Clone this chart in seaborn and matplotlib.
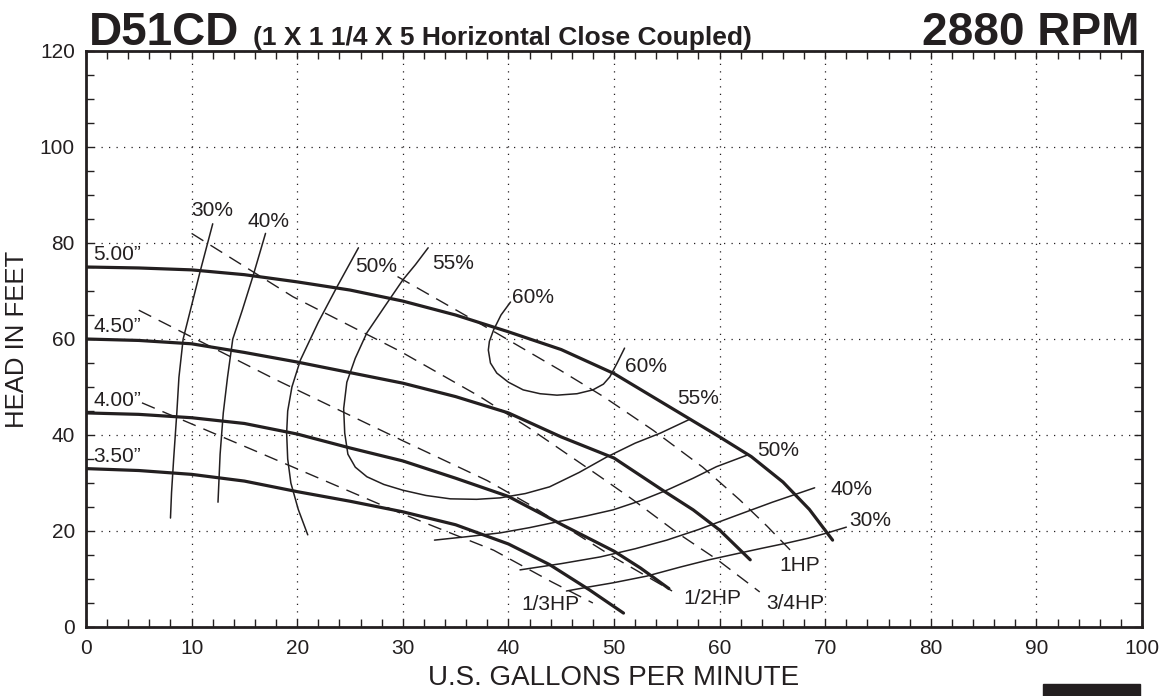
"""D51CD pump performance curve at 2880 RPM."""

import matplotlib.pyplot as plt
import seaborn as sns
from matplotlib.patches import Rectangle
from matplotlib.ticker import MultipleLocator

# impeller diameter curves (gpm, head ft)
gpm_500 = [0, 5, 10, 15, 20, 25, 30, 35, 40, 45, 50, 55, 60, 63, 66, 68.5, 70.7]
head_500 = [75, 74.8, 74.4, 73.4, 71.9, 70.2, 67.9, 65, 61.5, 57.8, 52.8,
            46.2, 39.6, 35.5, 30.2, 24.5, 18.1]
gpm_450 = [0, 5, 10, 15, 20, 25, 30, 35, 40, 45, 50, 54.6, 57.5, 60, 62.9]
head_450 = [60, 59.7, 59, 57.2, 55.2, 53, 50.8, 48, 44.6, 39.6, 35.2, 28.5,
            24.4, 20.2, 14]
gpm_400 = [0, 5, 10, 15, 20, 25, 30, 35, 40, 45, 50, 52.5, 55.2]
head_400 = [44.6, 44.3, 43.6, 42.4, 40.2, 37.3, 34.6, 31, 27.2, 21.4, 15.8,
            12.3, 8]
gpm_350 = [0, 5, 10, 15, 20, 25, 30, 35, 40, 43.9, 47.7, 50.9]
head_350 = [33, 32.6, 31.8, 30.4, 28.2, 26.2, 24, 21.3, 17.3, 13, 7.7, 2.9]

# horsepower lines
gpm_hp13 = [5.3, 15.8, 29.7, 38.6, 44.1, 48]
head_hp13 = [46.7, 36.9, 23.8, 16, 9.4, 5]
gpm_hp12 = [5, 18, 30, 38, 42, 46, 50, 55.5]
head_hp12 = [66, 51.5, 38.8, 30.5, 25.5, 20, 14.5, 7.5]
gpm_hp34 = [10, 19.6, 29.7, 37.3, 42, 48.7, 51.8, 56, 59.8, 63.8]
head_hp34 = [82, 68.8, 57.5, 48, 41.4, 31.3, 26.5, 19.6, 14, 7.3]
gpm_hp1 = [29.5, 38.9, 44.9, 49, 53.7, 58.4, 61.9, 64.5, 66.7]
head_hp1 = [73, 61.2, 53.5, 48, 41, 33.3, 26.5, 21, 16]

# efficiency curves, left branches
gpm_e30a = [12, 11.4, 10.8, 10, 9.2, 8.8, 8.6, 8.3, 8.1, 8]
head_e30a = [84, 79, 74, 67, 60, 52, 44.6, 35, 28, 22.7]
gpm_e40a = [17, 16.4, 15.8, 14.8, 13.9, 13.4, 13, 12.7, 12.5]
head_e40a = [82, 77.5, 73, 66, 60, 52, 44.6, 36, 26]
gpm_e50a = [25.8, 24.8, 23.8, 22, 20.3, 19.5, 19.1, 19, 19.1, 19.4, 20.1, 21]
head_e50a = [79, 75, 71, 63.5, 55.6, 50, 45, 40.4, 35, 30, 24.5, 19.2]
# 55% loop
gpm_e55 = [32.4, 31.2, 30, 28.2, 26.6, 25.5, 24.7, 24.4, 24.5, 24.8, 25.5,
           26.6, 28.2, 30, 32.2, 34.5, 37, 39.2, 41.6, 43.9, 46.7, 49.3, 52,
           54.4, 57.2]
head_e55 = [79, 75.5, 72.3, 66.5, 61.3, 56, 51, 45.5, 40.4, 36, 33.3, 31.3,
            29.7, 28.5, 27.4, 26.7, 26.6, 26.9, 27.8, 29.2, 32.2, 35.4, 38.3,
            40.4, 43.3]
# 60% island
gpm_e60 = [40.2, 39.3, 38.6, 38.2, 38.1, 38.3, 38.9, 40, 41.4, 43, 44.6, 46.5,
           48, 49, 49.6, 50.3, 51]
head_e60 = [67.7, 65, 61.9, 59.5, 57.7, 55, 52.9, 51, 49.4, 48.6, 48.3, 48.6,
            49.4, 50.6, 52.1, 55, 58.1]
# efficiency curves, right branches
gpm_e50b = [33, 36, 39.2, 42, 44.6, 47.3, 49.9, 52.5, 55, 57.5, 59.7, 62.6]
head_e50b = [18.1, 18.8, 19.6, 20.7, 21.9, 23.1, 24.4, 26.3, 28.5, 31, 33.4, 35.8]
gpm_e40b = [41.1, 45, 48.7, 52, 55, 58, 61.3, 65, 69]
head_e40b = [11.9, 13.2, 14.6, 16.3, 18.1, 20.3, 23, 26, 29]
gpm_e30b = [45.5, 47.5, 49.9, 53.1, 56.3, 59, 61.9, 64, 66.4, 68.4, 70.2, 72]
head_e30b = [7.5, 8.3, 9.2, 10.6, 12.5, 14, 15.4, 16.4, 17.5, 18.5, 19.6, 20.8]

curve_labels = ["5.00\u201d", "4.50\u201d", "4.00\u201d", "3.50\u201d"]
curve_label_heads = [75.6, 60.6, 45.2, 33.6]

eff_labels = ["30%", "40%", "50%", "55%", "60%", "60%", "55%", "50%", "40%", "30%"]
eff_label_gpm = [12, 17.3, 27.5, 34.8, 42.3, 53, 58, 65.5, 72.5, 74.3]
eff_label_head = [86.7, 84.4, 75.2, 75.8, 68.7, 54.2, 47.7, 36.7, 28.7, 22.1]

hp_labels = ["1HP", "3/4HP", "1/2HP", "1/3HP"]
hp_label_gpm = [67.6, 67.2, 59.3, 44]
hp_label_head = [12.9, 4.8, 6.0, 4.6]

sns.set_theme(style="white")
plt.rcParams["font.family"] = ["Liberation Sans", "DejaVu Sans"]
INK = "#231f20"

fig = plt.figure(figsize=(11.63, 6.96), dpi=100)
ax = fig.add_axes([86 / 1163, 1 - 627 / 696, 1056 / 1163, 576 / 696])

thick = dict(color=INK, linewidth=2.3, sort=False, estimator=None, ax=ax)
thin = dict(color=INK, linewidth=1.1, sort=False, estimator=None, ax=ax)
dash = dict(color=INK, linewidth=1.0, sort=False, estimator=None, ax=ax,
            linestyle=(0, (10, 6)))

for gx, hy in [(gpm_500, head_500), (gpm_450, head_450),
               (gpm_400, head_400), (gpm_350, head_350)]:
    sns.lineplot(x=gx, y=hy, **thick)

for gx, hy in [(gpm_hp13, head_hp13), (gpm_hp12, head_hp12),
               (gpm_hp34, head_hp34), (gpm_hp1, head_hp1)]:
    sns.lineplot(x=gx, y=hy, **dash)

for gx, hy in [(gpm_e30a, head_e30a), (gpm_e40a, head_e40a),
               (gpm_e50a, head_e50a), (gpm_e55, head_e55), (gpm_e60, head_e60),
               (gpm_e50b, head_e50b), (gpm_e40b, head_e40b),
               (gpm_e30b, head_e30b)]:
    sns.lineplot(x=gx, y=hy, **thin)

for lab, hy in zip(curve_labels, curve_label_heads):
    ax.text(0.7, hy, lab, fontsize=15, color=INK, ha="left", va="bottom")
for lab, gx, hy in zip(eff_labels, eff_label_gpm, eff_label_head):
    ax.text(gx, hy, lab, fontsize=15, color=INK, ha="center", va="center")
for lab, gx, hy in zip(hp_labels, hp_label_gpm, hp_label_head):
    ax.text(gx, hy, lab, fontsize=15, color=INK, ha="center", va="center")

ax.set_xlim(0, 100)
ax.set_ylim(0, 120)
ax.xaxis.set_major_locator(MultipleLocator(10))
ax.xaxis.set_minor_locator(MultipleLocator(2))
ax.yaxis.set_major_locator(MultipleLocator(20))
ax.yaxis.set_minor_locator(MultipleLocator(5))
ax.tick_params(which="both", direction="in", length=6, width=1.0, color=INK,
               top=True, right=True, bottom=True, left=True)
ax.tick_params(axis="x", which="major", pad=9, labelsize=15, labelcolor=INK)
ax.tick_params(axis="y", which="major", pad=8, labelsize=15, labelcolor=INK)
ax.grid(which="major", color=INK, linestyle=(0, (1, 5)), linewidth=0.9)
for sp in ax.spines.values():
    sp.set_color(INK)
    sp.set_linewidth(2.0)

ax.set_xlabel("U.S. GALLONS PER MINUTE", fontsize=20, color=INK, labelpad=5)
ax.set_ylabel("HEAD IN FEET", fontsize=18.5, color=INK, labelpad=8)

fig.text(89 / 1163, 1 - 45 / 696, "D51CD", fontsize=33, fontweight="bold",
         color=INK, ha="left", va="baseline")
fig.text(253 / 1163, 1 - 45 / 696, "(1 X 1 1/4 X 5 Horizontal Close Coupled)",
         fontsize=19, fontweight="bold", color=INK, ha="left", va="baseline")
fig.text(1140 / 1163, 1 - 45 / 696, "2880 RPM", fontsize=33, fontweight="bold",
         color=INK, ha="right", va="baseline")

fig.add_artist(Rectangle((1043 / 1163, 0), 97 / 1163, 12 / 696,
                         transform=fig.transFigure, color=INK))

fig.savefig("out.png", dpi=100)
